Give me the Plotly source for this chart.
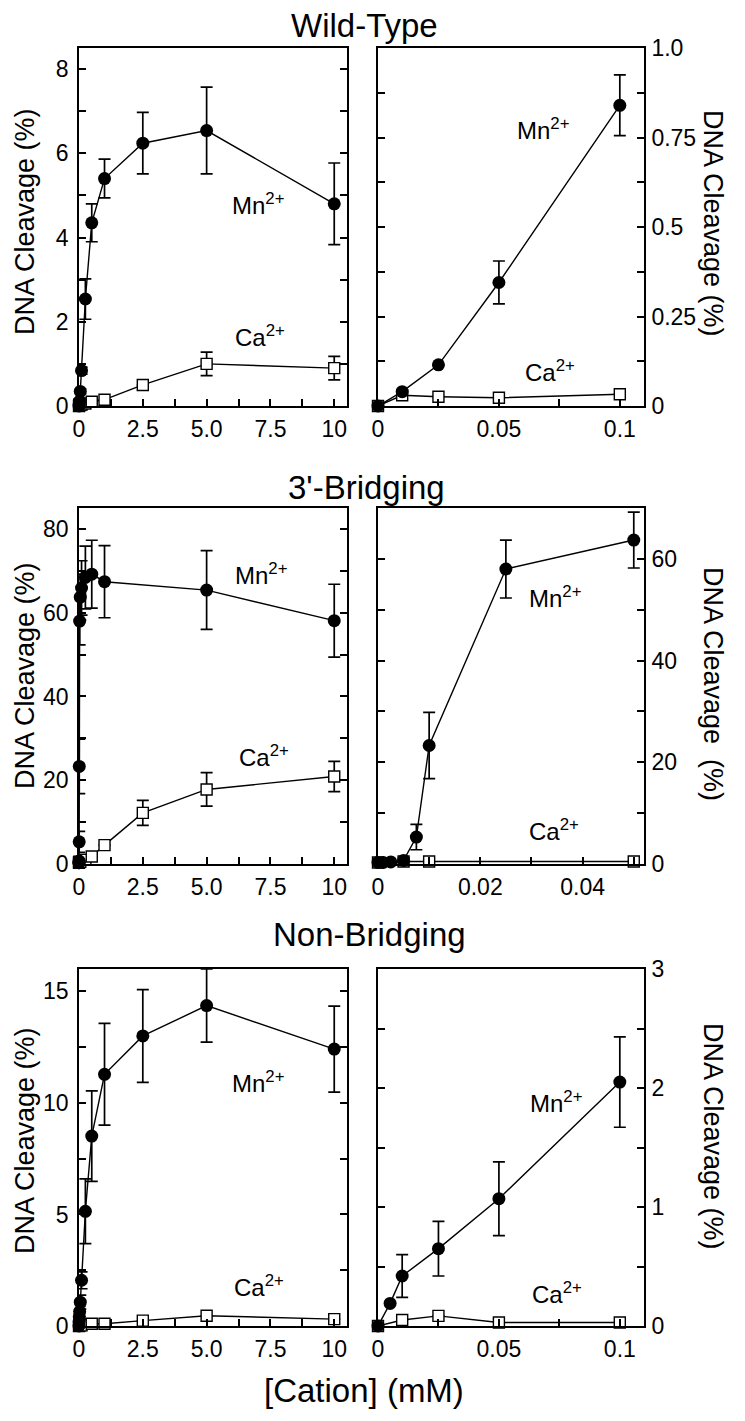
import plotly.graph_objects as go

FONT = "Liberation Sans, Arial, Helvetica, sans-serif"
W, H = 745, 1421

# ---------------- data ----------------
# Wild-Type
wt_mn_x = [0, 0.01, 0.025, 0.05, 0.1, 0.25, 0.5, 1, 2.5, 5, 10]
wt_mn_y = [0, 0.04, 0.115, 0.345, 0.84, 2.54, 4.35, 5.4, 6.24, 6.54, 4.8]
wt_mn_err = [0, 0, 0, 0.06, 0.085, 0.48, 0.45, 0.46, 0.73, 1.03, 0.97]
wt_ca_x = [0, 0.01, 0.025, 0.05, 0.1, 0.25, 0.5, 1, 2.5, 5, 10]
wt_ca_y = [0, 0.03, 0.026, 0.023, 0.033, 0.06, 0.1, 0.15, 0.5, 1.0, 0.9]
wt_ca_err = [0, 0, 0, 0, 0, 0, 0, 0, 0, 0.28, 0.28]

# 3'-Bridging
br_mn_x = [0, 0.001, 0.0025, 0.005, 0.0075, 0.01, 0.025, 0.05, 0.1, 0.25, 0.5, 1, 5, 10]
br_mn_y = [0.3, 0.3, 0.4, 0.7, 5.3, 23.3, 58.0, 63.7, 65.9, 68.4, 69.2, 67.4, 65.4, 58.1]
br_mn_err = [0, 0, 0, 0, 2.5, 6.5, 5.7, 5.5, 6.5, 7.5, 8.1, 8.6, 9.4, 8.7]
br_ca_x = [0, 0.005, 0.01, 0.05, 0.25, 0.5, 1, 2.5, 5, 10]
br_ca_y = [0.3, 0.5, 0.5, 0.5, 1.0, 1.8, 4.5, 12.2, 17.8, 20.9]
br_ca_err = [0, 0, 0, 0, 0, 0, 0, 3.0, 4.0, 3.6]

# Non-Bridging
nb_mn_x = [0, 0.005, 0.01, 0.025, 0.05, 0.1, 0.25, 0.5, 1, 2.5, 5, 10]
nb_mn_y = [0, 0.19, 0.42, 0.65, 1.07, 2.05, 5.14, 8.51, 11.28, 13.0, 14.36, 12.41]
nb_mn_err = [0, 0, 0.18, 0.23, 0.31, 0.38, 1.45, 2.03, 2.28, 2.08, 1.64, 1.93]
nb_ca_x = [0, 0.01, 0.025, 0.05, 0.1, 0.5, 1, 2.5, 5, 10]
nb_ca_y = [0, 0.05, 0.085, 0.03, 0.03, 0.1, 0.1, 0.24, 0.46, 0.31]
nb_ca_err = [0, 0, 0, 0.03, 0, 0, 0, 0, 0, 0]

# tick labels
left_x_vals = [0, 2.5, 5, 7.5, 10]
left_x_text = ["0", "2.5", "5.0", "7.5", "10"]
wide_x_vals = [0, 0.05, 0.1]
wide_x_text = ["0", "0.05", "0.1"]
br_right_x_vals = [0, 0.02, 0.04]
br_right_x_text = ["0", "0.02", "0.04"]
wt_left_y_vals = [0, 2, 4, 6, 8]
wt_right_y_vals = [0, 0.25, 0.5, 0.75, 1.0]
wt_right_y_text = ["0", "0.25", "0.5", "0.75", "1.0"]
br_left_y_vals = [0, 20, 40, 60, 80]
br_right_y_vals = [0, 20, 40, 60]
nb_left_y_vals = [0, 5, 10, 15]
nb_right_y_vals = [0, 1, 2, 3]

titles = ["Wild-Type", "3'-Bridging", "Non-Bridging"]

# ---------------- geometry (pixels) ----------------
col_px = [(79, 347), (378, 644)]
row_px = [(48, 406), (508, 864), (969, 1326)]


def xdom(c):
    a, b = col_px[c]
    return [a / W, b / W]


def ydom(r):
    a, b = row_px[r]
    return [1 - b / H, 1 - a / H]


panels = [
    # (row, col, data, xrange, yrange, xticks, yticks, xminor, yminor)
    (0, 0, "wt", [0, 10.5], [0, 8.5], (left_x_vals, left_x_text),
     (wt_left_y_vals, [str(v) for v in wt_left_y_vals]), 1.25, 1),
    (0, 1, "wt", [0, 0.11], [0, 1.0], (wide_x_vals, wide_x_text),
     (wt_right_y_vals, wt_right_y_text), 0.025, 0.125),
    (1, 0, "br", [0, 10.5], [0, 85], (left_x_vals, left_x_text),
     (br_left_y_vals, [str(v) for v in br_left_y_vals]), 1.25, 10),
    (1, 1, "br", [0, 0.052], [0, 70], (br_right_x_vals, br_right_x_text),
     (br_right_y_vals, [str(v) for v in br_right_y_vals]), 0.01, 10),
    (2, 0, "nb", [0, 10.5], [0, 16], (left_x_vals, left_x_text),
     (nb_left_y_vals, [str(v) for v in nb_left_y_vals]), 1.25, 2.5),
    (2, 1, "nb", [0, 0.11], [0, 3], (wide_x_vals, wide_x_text),
     (nb_right_y_vals, [str(v) for v in nb_right_y_vals]), 0.025, 0.5),
]

datasets = {
    "wt": ((wt_ca_x, wt_ca_y, wt_ca_err), (wt_mn_x, wt_mn_y, wt_mn_err)),
    "br": ((br_ca_x, br_ca_y, br_ca_err), (br_mn_x, br_mn_y, br_mn_err)),
    "nb": ((nb_ca_x, nb_ca_y, nb_ca_err), (nb_mn_x, nb_mn_y, nb_mn_err)),
}

fig = go.Figure()
layout = dict(
    width=W, height=H,
    margin=dict(l=0, r=0, t=0, b=0),
    paper_bgcolor="white", plot_bgcolor="white",
    showlegend=False,
    font=dict(family=FONT, color="black", size=23),
)

ticksty = dict(ticks="inside", ticklen=7, tickwidth=1.5, tickcolor="black")

for i, (r, c, key, xr, yr, xt, yt, xmin, ymin) in enumerate(panels, start=1):
    xa = "x" if i == 1 else f"x{i}"
    ya = "y" if i == 1 else f"y{i}"
    ca, mn = datasets[key]
    for (xs, ys, es), is_mn in ((ca, False), (mn, True)):
        keep = [k for k, xv in enumerate(xs) if xv <= xr[1]]
        fx = [xs[k] for k in keep]
        fy = [ys[k] for k in keep]
        fe = [es[k] for k in keep]
        if is_mn:
            marker = dict(symbol="circle", size=13, color="black",
                          line=dict(color="black", width=0))
        else:
            marker = dict(symbol="square", size=11, color="white",
                          line=dict(color="black", width=1.4))
        fig.add_trace(go.Scatter(
            x=fx, y=fy, mode="lines+markers", xaxis=xa, yaxis=ya,
            line=dict(color="black", width=1.4),
            marker=marker, cliponaxis=False,
            error_y=dict(type="data", array=fe, visible=True, color="black",
                         thickness=1.7, width=6),
            hoverinfo="skip",
        ))

    xkey = "xaxis" if i == 1 else f"xaxis{i}"
    ykey = "yaxis" if i == 1 else f"yaxis{i}"
    layout[xkey] = dict(
        domain=xdom(c), range=xr, anchor=ya, autorange=False,
        showline=True, linecolor="black", linewidth=1.6, mirror=True,
        showgrid=False, zeroline=False, automargin=False,
        tickmode="array", tickvals=xt[0], ticktext=xt[1],
        tickfont=dict(family=FONT, size=23, color="black"),
        ticklabelstandoff=2,
        minor=dict(dtick=xmin, tick0=0, **ticksty),
        **ticksty,
    )
    layout[ykey] = dict(
        domain=ydom(r), range=yr, anchor=xa, autorange=False,
        side="left" if c == 0 else "right",
        showline=True, linecolor="black", linewidth=1.6, mirror="allticks",
        showgrid=False, zeroline=False, automargin=False,
        tickmode="array", tickvals=yt[0], ticktext=yt[1],
        tickfont=dict(family=FONT, size=23, color="black"),
        ticklabelstandoff=4 if c == 0 else 1,
        minor=dict(dtick=ymin, tick0=0, **ticksty),
        **ticksty,
    )

annotations = []


def ann(px, py, text, size, xanchor="left", angle=0):
    annotations.append(dict(
        x=px / W, y=1 - py / H, xref="paper", yref="paper",
        text=text, showarrow=False, xanchor=xanchor, yanchor="middle",
        textangle=angle, font=dict(family=FONT, size=size, color="black"),
    ))


# panel titles
ann(364, 26, titles[0], 33, xanchor="center")
ann(366, 487, titles[1], 33, xanchor="center")
ann(369, 934, titles[2], 33, xanchor="center")

# axis titles
ann(25, 222, "DNA Cleavage (%)", 27, xanchor="center", angle=-90)
ann(25, 676, "DNA Cleavage (%)", 27, xanchor="center", angle=-90)
ann(25, 1141, "DNA Cleavage (%)", 27, xanchor="center", angle=-90)
ann(713, 223, "DNA Cleavage (%)", 27, xanchor="center", angle=90)
ann(713, 684, "DNA Cleavage  (%)", 27, xanchor="center", angle=90)
ann(713, 1136, "DNA Cleavage (%)", 27, xanchor="center", angle=90)
ann(364, 1390, "[Cation] (mM)", 33, xanchor="center")

# series labels
MN = "Mn<sup>2+</sup>"
CA = "Ca<sup>2+</sup>"
ann(230, 204, MN, 24)
ann(233, 336, CA, 24)
ann(515, 129, MN, 24)
ann(523, 371, CA, 24)
ann(233, 574, MN, 24)
ann(237, 756, CA, 24)
ann(527, 597, MN, 24)
ann(527, 830, CA, 24)
ann(230, 1082, MN, 24)
ann(232, 1286, CA, 24)
ann(528, 1102, MN, 24)
ann(530, 1293, CA, 24)

layout["annotations"] = annotations
fig.update_layout(**layout)
fig.write_html(
    "out.html",
    config={"displayModeBar": False},
    post_script="document.body.style.margin='0px';document.body.style.padding='0px';",
)
